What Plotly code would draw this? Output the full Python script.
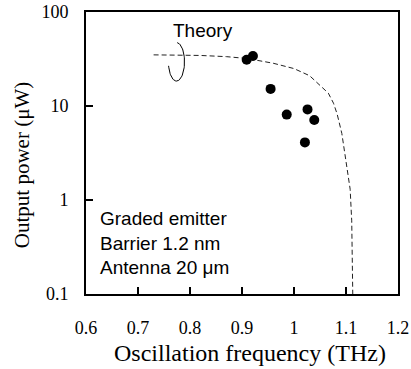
import numpy as np
import plotly.graph_objects as go

# Measured data
meas_x = [0.909, 0.921, 0.955, 0.986, 1.021, 1.026, 1.039]
meas_y = [31, 34, 15.2, 8.1, 4.1, 9.2, 7.1]

# Theory curve
theory_x = [0.73, 0.82, 0.87, 0.91, 0.96, 1.00, 1.03, 1.05, 1.066, 1.076, 1.083, 1.092, 1.101, 1.108, 1.111, 1.112, 1.113]
theory_y = [35, 34.5, 33.5, 32, 28.5, 25, 21, 16.5, 13.7, 10.7, 8.2, 5.1, 2.5, 1.3, 0.6, 0.3, 0.1]

x_ticks = [0.6, 0.7, 0.8, 0.9, 1.0, 1.1, 1.2]
x_ticktext = ["0.6", "0.7", "0.8", "0.9", "1", "1.1", "1.2"]
y_ticks = [0.1, 1, 10, 100]
y_ticktext = ["0.1", "1", "10", "100"]

fig = go.Figure()

fig.add_trace(go.Scatter(
    x=theory_x, y=theory_y, mode="lines",
    line=dict(color="#222222", width=1, dash="5px,3px"),
    showlegend=False, hoverinfo="skip"))

# loop marker around the theory curve (decoration)
cx, cy_log, rx, ry = 0.774, 1.47, 0.0155, 0.205
t = np.linspace(np.radians(85), np.radians(-168), 60)
fig.add_trace(go.Scatter(
    x=cx + rx * np.cos(t), y=10 ** (cy_log + ry * np.sin(t)), mode="lines",
    line=dict(color="black", width=1),
    showlegend=False, hoverinfo="skip"))

fig.add_trace(go.Scatter(
    x=meas_x, y=meas_y, mode="markers",
    marker=dict(color="black", size=10),
    showlegend=False))

serif = "Liberation Serif, Times New Roman, serif"
sans = "Liberation Sans, Arial, sans-serif"

fig.update_layout(
    width=411, height=369,
    margin=dict(l=86, r=13, t=12, b=75, autoexpand=False),
    paper_bgcolor="white", plot_bgcolor="white",
    xaxis=dict(range=[0.6, 1.2], tickvals=x_ticks, ticktext=x_ticktext,
               ticks="inside", ticklen=7, tickwidth=1.5, tickcolor="black",
               showline=True, linewidth=2, linecolor="black", mirror=True,
               showgrid=False, zeroline=False, automargin=False,
               tickfont=dict(family=serif, size=18, color="black"),
               ticklabelstandoff=16),
    yaxis=dict(type="log", range=[-1, 2], tickvals=y_ticks, ticktext=y_ticktext,
               ticks="inside", ticklen=7, tickwidth=1.5, tickcolor="black",
               showline=True, linewidth=2, linecolor="black", mirror=True,
               showgrid=False, zeroline=False, automargin=False,
               tickfont=dict(family=serif, size=18, color="black"),
               ticklabelstandoff=12),
    annotations=[
        dict(text="Oscillation frequency (THz)", xref="paper", yref="paper",
             x=0.526, y=-0.209, xanchor="center", yanchor="middle", showarrow=False,
             font=dict(family=serif, size=24, color="black")),
        dict(text="Output power (μW)", xref="paper", yref="paper",
             x=-0.205, y=0.457, xanchor="center", yanchor="middle", showarrow=False,
             textangle=-90, font=dict(family=serif, size=21, color="black")),
        dict(text="Theory", xref="paper", yref="paper",
             x=0.375, y=0.936, xanchor="center", yanchor="middle", showarrow=False,
             font=dict(family=sans, size=19, color="black")),
        dict(text="Graded emitter<br>Barrier 1.2 nm<br>Antenna 20 μm", xref="paper", yref="paper",
             x=0.0385, y=0.181, xanchor="left", yanchor="middle", align="left", showarrow=False,
             font=dict(family=sans, size=19, color="black")),
    ],
)

fig.write_html("out.html")
